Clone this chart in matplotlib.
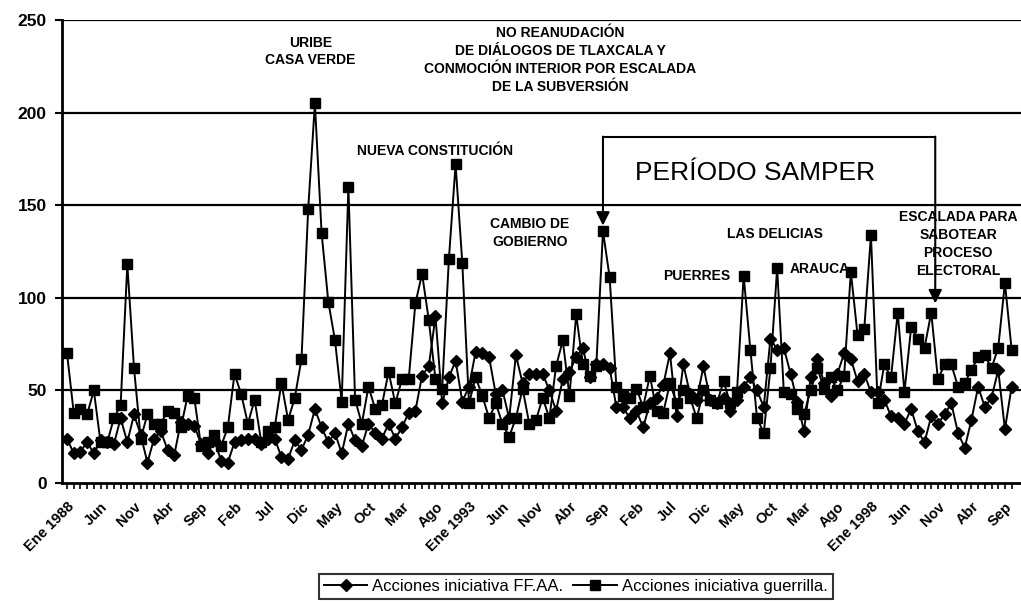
import numpy as np
import matplotlib
matplotlib.use("Agg")
import matplotlib.pyplot as plt
from matplotlib.lines import Line2D

plt.rcParams['font.family'] = ['Liberation Sans', 'DejaVu Sans']

# monthly values, Ene 1988 onwards
guerrilla = [70, 38, 40, 37, 50, 22, 22, 35, 42, 118, 62, 24, 37, 32, 32, 39, 38, 30, 47, 46,
             20, 22, 26, 20, 30, 59, 48, 32, 45, 22, 28, 30, 54, 34, 46, 67, 148, 205,
             135, 98, 77, 44, 160, 45, 32, 52, 40, 42, 60, 43, 56, 56, 97, 113, 88, 56, 51, 121,
             172, 119, 43, 57, 47, 35, 43, 32, 25, 35, 51, 32,
             34, 46, 35, 63, 77, 47, 91, 64, 58, 63, 136, 111, 52, 47, 46, 51, 41, 58, 39, 38,
             54, 43, 50, 46, 35, 50, 45, 43, 55, 43, 49, 112, 72, 35, 27, 62, 116, 49, 48, 40,
             37, 50, 62, 51, 57, 50, 58, 114, 80, 83, 134, 43, 64, 57, 92, 49, 84, 78, 73, 92,
             56, 64, 64, 52, 54, 61, 68, 69, 62, 73, 108, 72]
ffaa = [24, 16, 17, 22, 16, 23, 22, 21, 35, 22, 37, 26, 11, 24, 28, 18, 15, 33, 32, 31,
        21, 16, 23, 12, 11, 22, 23, 24, 24, 21, 24, 24, 14, 13, 23, 18, 26, 40, 30, 22, 27,
        16, 32, 23, 20, 32, 27, 24, 32, 24, 30, 38, 39, 58, 63, 90, 43, 57, 66, 44, 52,
        71, 70, 68, 48, 50, 35, 69, 54, 59, 59,
        59, 50, 39, 56, 60, 68, 73, 57, 64, 64, 62, 41, 41, 35, 39, 30, 43, 46, 53, 70,
        36, 64, 48, 45, 63, 45, 43, 46, 39, 45, 52, 57, 50, 41, 78, 72,
        73, 59, 44, 28, 57, 67, 54, 47, 59, 70, 67, 55, 59, 49, 49, 45, 36, 35, 32, 40,
        28, 22, 36, 32, 37, 43, 27, 19, 34, 52, 41, 46, 61, 29, 52]

tick_labels = ['Ene 1988', 'Jun', 'Nov', 'Abr', 'Sep', 'Feb', 'Jul', 'Dic', 'May', 'Oct',
               'Mar', 'Ago', 'Ene 1993', 'Jun', 'Nov', 'Abr', 'Sep', 'Feb', 'Jul', 'Dic',
               'May', 'Oct', 'Mar', 'Ago', 'Ene 1998', 'Jun', 'Nov', 'Abr', 'Sep']
y_ticks = [0, 50, 100, 150, 200, 250]

x = np.arange(len(guerrilla))

fig = plt.figure(figsize=(10.21, 6.03), dpi=100)
ax = fig.add_axes([62/1021, 1-483/603, 1-62/1021, (483-20)/603])
ax.set_xlim(-0.75, 142.4)
ax.set_ylim(0, 250)

for v in y_ticks[1:]:
    ax.axhline(v, color='black', lw=1.6, zorder=1)

ax.plot(x, guerrilla, color='black', lw=1.4, marker='s', ms=7, zorder=3)
ax.plot(np.arange(len(ffaa)), ffaa, color='black', lw=1.4, marker='D', ms=6.3, zorder=3)

for s in ['top', 'right']:
    ax.spines[s].set_visible(False)
ax.spines['left'].set_linewidth(2)
ax.spines['bottom'].set_linewidth(2)

ax.set_xticks(np.arange(0, 5*len(tick_labels), 5))
ax.set_xticklabels(tick_labels, rotation=45, ha='right', va='top', rotation_mode='anchor',
                   fontsize=10.5, fontweight='bold')
ax.set_xticks(x, minor=True)
ax.tick_params(axis='x', which='both', direction='out', length=4, width=1.2, pad=8)
ax.set_yticks(y_ticks)
ax.set_yticklabels([str(v) for v in y_ticks], fontsize=12.5, fontweight='bold')
ax.tick_params(axis='y', direction='out', length=5, width=1.5, pad=6)

# annotations
tk = dict(ha='center', va='center', fontsize=10, fontweight='bold', linespacing=1.35, zorder=4)
ax.text(36.3, 233, 'URIBE\nCASA VERDE', **tk)
ax.text(73.6, 228.5, 'NO REANUDACIÓN\nDE DIÁLOGOS DE TLAXCALA Y\nCONMOCIÓN INTERIOR POR ESCALADA\nDE LA SUBVERSIÓN', **tk)
ax.text(55, 179.5, 'NUEVA CONSTITUCIÓN', **tk)
ax.text(69.1, 135, 'CAMBIO DE\nGOBIERNO', **tk)
ax.text(105.7, 134.6, 'LAS DELICIAS', **tk)
ax.text(94, 112, 'PUERRES', **tk)
ax.text(112.4, 115.7, 'ARAUCA', **tk)
ax.text(133, 129, 'ESCALADA PARA\nSABOTEAR\nPROCESO\nELECTORAL', **tk)

# Samper period box with arrows
ax.fill_between([80, 129.6], 150, 187, color='white', zorder=2)
ax.plot([80, 129.6], [187, 187], color='black', lw=1.5, zorder=4)
ax.plot([80, 129.6], [150, 150], color='black', lw=1.5, zorder=4)
arr = dict(arrowstyle='-|>', color='black', lw=1.5, mutation_scale=20, shrinkA=0, shrinkB=0)
ax.annotate('', xy=(80, 139), xytext=(80, 187), arrowprops=arr, zorder=4)
ax.annotate('', xy=(129.6, 97), xytext=(129.6, 187), arrowprops=arr, zorder=4)
ax.text(102.7, 167.5, 'PERÍODO SAMPER', ha='center', va='center', fontsize=19, zorder=5)

handles = [Line2D([], [], color='black', lw=1.4, marker='D', ms=6.3),
           Line2D([], [], color='black', lw=1.4, marker='s', ms=7)]
leg = fig.legend(handles, ['Acciones iniciativa FF.AA.', 'Acciones iniciativa guerrilla.'],
                 loc='center', bbox_to_anchor=(0.564, 0.027), ncol=2, frameon=True,
                 fancybox=False, edgecolor='black', fontsize=12, handlelength=2.6,
                 columnspacing=0.6, handletextpad=0.3, borderpad=0.3)
leg.get_frame().set_linewidth(1.5)

fig.savefig('out.png', dpi=100)
